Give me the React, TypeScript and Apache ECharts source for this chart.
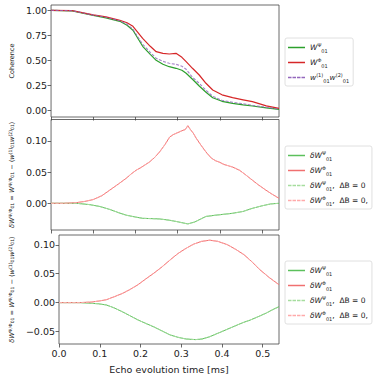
import React, { useEffect, useRef } from "react";
import * as echarts from "echarts";

// Panel 1: coherence
const T1 = [0, 0.05, 0.1, 0.13, 0.163, 0.18, 0.194, 0.217, 0.235, 0.249, 0.265, 0.28, 0.296, 0.31, 0.32, 0.335, 0.351, 0.367, 0.383, 0.405, 0.43, 0.455, 0.477, 0.51, 0.54];
const COH_PSI = [1, 0.995, 0.95, 0.925, 0.89, 0.85, 0.8, 0.64, 0.56, 0.5, 0.46, 0.436, 0.42, 0.4, 0.37, 0.31, 0.243, 0.18, 0.126, 0.09, 0.07, 0.055, 0.043, 0.025, 0.01];
const COH_PHI = [1, 0.997, 0.955, 0.935, 0.9, 0.875, 0.84, 0.72, 0.64, 0.586, 0.57, 0.563, 0.57, 0.53, 0.486, 0.42, 0.353, 0.27, 0.203, 0.155, 0.126, 0.105, 0.086, 0.045, 0.02];
const COH_PROD = [1, 0.996, 0.952, 0.93, 0.895, 0.86, 0.81, 0.66, 0.58, 0.52, 0.49, 0.47, 0.46, 0.44, 0.41, 0.33, 0.27, 0.2, 0.14, 0.1, 0.08, 0.065, 0.05, 0.03, 0.012];

// Panel 2: measured deviation
const T2R = [0, 0.03, 0.06, 0.08, 0.1, 0.12, 0.139, 0.16, 0.178, 0.19, 0.202, 0.215, 0.233, 0.245, 0.257, 0.27, 0.281, 0.29, 0.3, 0.31, 0.318, 0.324, 0.33, 0.337, 0.344, 0.355, 0.367, 0.38, 0.39, 0.398, 0.41, 0.42, 0.43, 0.446, 0.46, 0.477, 0.49, 0.509, 0.525, 0.54];
const DEV_PHI = [0, 0, 0.001, 0.003, 0.006, 0.012, 0.021, 0.031, 0.04, 0.047, 0.053, 0.058, 0.066, 0.073, 0.082, 0.094, 0.106, 0.11, 0.113, 0.116, 0.118, 0.124, 0.118, 0.112, 0.104, 0.093, 0.082, 0.072, 0.068, 0.066, 0.062, 0.06, 0.058, 0.053, 0.046, 0.037, 0.03, 0.021, 0.014, 0.008];
const T2G = [0, 0.06, 0.09, 0.115, 0.14, 0.16, 0.178, 0.2, 0.217, 0.257, 0.28, 0.296, 0.31, 0.324, 0.34, 0.355, 0.367, 0.39, 0.43, 0.455, 0.477, 0.5, 0.52, 0.54];
const DEV_PSI = [0, 0, -0.002, -0.005, -0.01, -0.015, -0.019, -0.022, -0.024, -0.025, -0.027, -0.029, -0.031, -0.033, -0.03, -0.025, -0.021, -0.019, -0.016, -0.013, -0.008, -0.004, -0.001, 0];

// Panel 3: model deviation
const T3R = [0, 0.05, 0.08, 0.1, 0.116, 0.135, 0.156, 0.175, 0.194, 0.213, 0.233, 0.253, 0.273, 0.292, 0.312, 0.33, 0.35, 0.37, 0.39, 0.414, 0.434, 0.454, 0.473, 0.493, 0.515, 0.54];
const MOD_PHI = [0, 0, 0.001, 0.003, 0.005, 0.01, 0.016, 0.023, 0.031, 0.041, 0.051, 0.062, 0.074, 0.085, 0.094, 0.101, 0.106, 0.108, 0.106, 0.1, 0.092, 0.083, 0.071, 0.057, 0.044, 0.031];
const T3G = [0, 0.05, 0.076, 0.096, 0.116, 0.135, 0.156, 0.175, 0.194, 0.213, 0.233, 0.253, 0.273, 0.292, 0.312, 0.335, 0.351, 0.37, 0.39, 0.41, 0.43, 0.45, 0.47, 0.49, 0.509, 0.525, 0.54];
const MOD_PSI = [0, 0, -0.001, -0.002, -0.004, -0.009, -0.016, -0.023, -0.03, -0.036, -0.042, -0.049, -0.056, -0.06, -0.063, -0.064, -0.063, -0.059, -0.053, -0.047, -0.041, -0.035, -0.03, -0.024, -0.018, -0.012, -0.007];

const X_TICKS = [0, 0.1, 0.2, 0.3, 0.4, 0.5];
const Y1_TICKS = [0, 0.25, 0.5, 0.75, 1.0];
const Y2_TICKS = [0, 0.05, 0.1];
const Y3_TICKS = [-0.05, 0, 0.05, 0.1];

const zip = (t: number[], v: number[]) => t.map((x, i) => [x, v[i]]);

const FONT = "DejaVu Sans";
const GREEN = "#2ca02c";
const RED = "#d62728";
const PURPLE = "#9467bd";
const GREEN2 = "#5cc05c";
const RED2 = "#f07070";
const GREEN_L = "#a6dd9e";
const RED_L = "#ffaaaa";

const SOLID_ICON = "path://M0,0 L34,0 L34,3 L0,3 Z";
const DASH_ICON = "path://M0,0 L7,0 L7,3 L0,3 Z M9,0 L16,0 L16,3 L9,3 Z M18,0 L25,0 L25,3 L18,3 Z M27,0 L34,0 L34,3 L27,3 Z";

const richBase = {
  m: { fontFamily: FONT, fontSize: 7.5, fontStyle: "italic", color: "#222", lineHeight: 11 },
  n: { fontFamily: FONT, fontSize: 7.5, color: "#222", lineHeight: 11 },
  b: { fontFamily: FONT, fontSize: 5, color: "#222", verticalAlign: "bottom", lineHeight: 11 },
  p: { fontFamily: FONT, fontSize: 5, color: "#222", verticalAlign: "top", lineHeight: 11 },
};

const LEGEND_TEXT: Record<string, string> = {
  c_psi: "{m|W}{p|Ψ}{b|01}",
  c_phi: "{m|W}{p|Φ}{b|01}",
  c_prod: "{m|w}{p|(1)}{b|01}{m|w}{p|(2)}{b|01}",
  d_psi: "{m|δW}{p|Ψ}{b|01}",
  d_phi: "{m|δW}{p|Φ}{b|01}",
  d_psi0: "{m|δW}{p|Ψ}{b|01}{n|,  ΔB = 0}",
  d_phi0: "{m|δW}{p|Φ}{b|01}{n|,  ΔB = 0,}",
  m_psi: "{m|δW}{p|Ψ}{b|01}",
  m_phi: "{m|δW}{p|Φ}{b|01}",
  m_psi0: "{m|δW}{p|Ψ}{b|01}{n|,  ΔB = 0}",
  m_phi0: "{m|δW}{p|Φ}{b|01}{n|,  ΔB = 0,}",
};

const axisRich = {
  m: { fontFamily: FONT, fontSize: 6.6, fontStyle: "italic", color: "#222" },
  n: { fontFamily: FONT, fontSize: 6.6, color: "#222" },
  b: { fontFamily: FONT, fontSize: 4.6, color: "#222", verticalAlign: "bottom" },
  p: { fontFamily: FONT, fontSize: 4.6, color: "#222", verticalAlign: "top" },
};
const DEV_NAME =
  "{m|δW}{p|Ψ/Φ}{b|01}{n| = }{m|W}{p|Ψ/Φ}{b|01}{n| − ⟨}{m|w}{p|(1)}{b|01}{m|w}{p|(2)}{b|01}{n|⟩}";

export default function App() {
  const ref = useRef<HTMLDivElement>(null);
  useEffect(() => {
    if (!ref.current) return;
    const chart = echarts.init(ref.current, null, { renderer: "svg" });
    const grids = [
      { left: 51, top: 5, width: 228, height: 112 },
      { left: 51, top: 119.5, width: 228, height: 110.5 },
      { left: 51, top: 235, width: 228, height: 109 },
    ].map((g) => ({ ...g, show: true, borderColor: "#444", borderWidth: 0.8, backgroundColor: "transparent" }));

    const tickLabel = { fontFamily: FONT, fontSize: 9.5, color: "#222" };
    const xAxis = [0, 1, 2].map((i) => ({
      type: "value",
      gridIndex: i,
      position: "bottom",
      min: 0,
      max: 0.54,
      axisLine: { show: false, onZero: false },
      splitLine: { show: false },
      axisTick: { show: true, length: 3.5, lineStyle: { color: "#444", width: 0.8 }, customValues: X_TICKS },
      axisLabel: {
        show: i === 2,
        ...tickLabel,
        margin: 4,
        customValues: X_TICKS,
        formatter: (v: number) => v.toFixed(1),
      },
      name: i === 2 ? "Echo evolution time [ms]" : "",
      nameLocation: "middle",
      nameGap: 20,
      nameTextStyle: { fontFamily: FONT, fontSize: 9.5, color: "#222" },
    }));
    const yAx = (i: number, min: number, max: number, ticks: number[], name: string, gap: number, rich?: any, fs?: number) => ({
      type: "value",
      gridIndex: i,
      position: "left",
      min,
      max,
      axisLine: { show: false, onZero: false },
      splitLine: { show: false },
      axisTick: { show: true, length: 3.5, lineStyle: { color: "#444", width: 0.8 }, customValues: ticks },
      axisLabel: {
        ...tickLabel,
        margin: 4,
        customValues: ticks,
        formatter: (v: number) => (v < 0 ? "−" + Math.abs(v).toFixed(2) : v.toFixed(2)),
      },
      name,
      nameLocation: "middle",
      nameRotate: 90,
      nameGap: gap,
      nameTextStyle: { fontFamily: FONT, fontSize: fs || 6.6, color: "#222", rich },
    });
    const yAxis = [
      yAx(0, -0.067, 1.053, Y1_TICKS, "Coherence", 27, undefined, 6.5),
      yAx(1, -0.0427, 0.134, Y2_TICKS, DEV_NAME, 28, axisRich),
      yAx(2, -0.0716, 0.117, Y3_TICKS, DEV_NAME, 28, axisRich),
    ];

    const line = (name: string, idx: number, data: number[][], color: string, width: number, dashed = false, opacity = 1, z = 2) => ({
      type: "line",
      name,
      xAxisIndex: idx,
      yAxisIndex: idx,
      data,
      symbol: "none",
      showSymbol: false,
      z,
      lineStyle: { color, width, type: dashed ? [3, 1.5] : "solid", opacity },
      itemStyle: { color },
    });

    const series = [
      line("c_psi", 0, zip(T1, COH_PSI), GREEN, 1.2, false, 1, 3),
      line("c_phi", 0, zip(T1, COH_PHI), RED, 1.2, false, 1, 3),
      line("c_prod", 0, zip(T1, COH_PROD), PURPLE, 1.1, true, 0.8, 4),
      line("d_psi", 1, zip(T2G, DEV_PSI), GREEN2, 1.0),
      line("d_phi", 1, zip(T2R, DEV_PHI), RED2, 1.0),
      line("d_psi0", 1, zip(T2G, DEV_PSI), GREEN_L, 1.0, true),
      line("d_phi0", 1, zip(T2R, DEV_PHI), RED_L, 1.0, true),
      line("m_psi", 2, zip(T3G, MOD_PSI), GREEN2, 1.0),
      line("m_phi", 2, zip(T3R, MOD_PHI), RED2, 1.0),
      line("m_psi0", 2, zip(T3G, MOD_PSI), GREEN_L, 1.0, true),
      line("m_phi0", 2, zip(T3R, MOD_PHI), RED_L, 1.0, true),
    ];

    const legend = (names: string[], dashed: boolean[], top: number, width: number, height: number) => ({
      data: names.map((n, i) => ({ name: n, icon: dashed[i] ? DASH_ICON : SOLID_ICON })),
      orient: "vertical",
      left: 285,
      top,
      width,
      height,
      padding: [4, 4, 3, 3],
      itemGap: 4,
      itemWidth: 17,
      itemHeight: 1.5,
      borderColor: "#d8d8d8",
      borderWidth: 0.8,
      borderRadius: 2,
      backgroundColor: "rgba(255,255,255,0.8)",
      selectedMode: false,
      formatter: (n: string) => LEGEND_TEXT[n] || n,
      textStyle: { fontFamily: FONT, fontSize: 7.5, color: "#222", rich: richBase },
    });

    chart.setOption({
      animation: false,
      backgroundColor: "#fff",
      grid: grids,
      xAxis,
      yAxis,
      legend: [
        legend(["c_psi", "c_phi", "c_prod"], [false, false, true], 38, 58, 44),
        legend(["d_psi", "d_phi", "d_psi0", "d_phi0"], [false, false, true, true], 146, 84, 57),
        legend(["m_psi", "m_phi", "m_psi0", "m_phi0"], [false, false, true, true], 261, 84, 57),
      ],
      series,
    });
    return () => chart.dispose();
  }, []);
  return <div ref={ref} style={{ position: "fixed", left: 0, top: 0, width: 374, height: 375 }} />;
}
